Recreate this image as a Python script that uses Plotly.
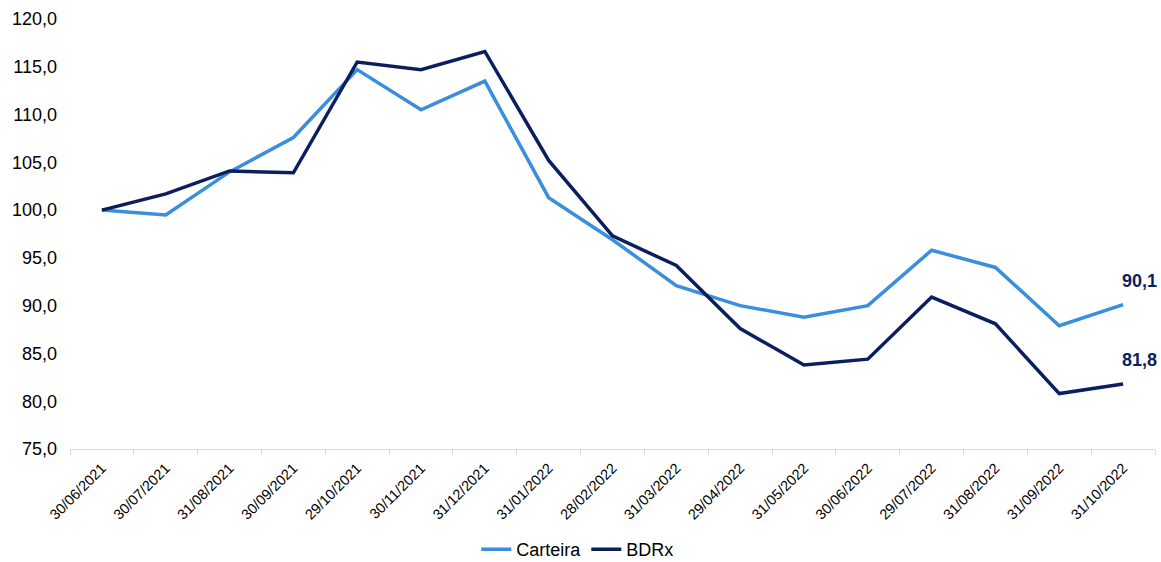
import plotly.graph_objects as go

dates = ["30/06/2021", "30/07/2021", "31/08/2021", "30/09/2021", "29/10/2021", "30/11/2021",
         "31/12/2021", "31/01/2022", "28/02/2022", "31/03/2022", "29/04/2022", "31/05/2022",
         "30/06/2022", "29/07/2022", "31/08/2022", "31/09/2022", "31/10/2022"]
carteira = [100.0, 99.5, 104.0, 107.6, 114.7, 110.5, 113.5, 101.3, 96.9, 92.1, 90.0, 88.8,
            90.0, 95.8, 94.0, 87.9, 90.1]
bdrx = [100.0, 101.7, 104.1, 103.9, 115.5, 114.7, 116.6, 105.2, 97.3, 94.2, 87.6, 83.8,
        84.4, 90.9, 88.1, 80.8, 81.8]

c_cart = "#3A8EDC"
c_bdrx = "#0B1F5E"

fig = go.Figure()
fig.add_trace(go.Scatter(x=dates, y=carteira, name="Carteira", mode="lines",
                         line=dict(color=c_cart, width=3.5)))
fig.add_trace(go.Scatter(x=dates, y=bdrx, name="BDRx", mode="lines",
                         line=dict(color=c_bdrx, width=3.5)))

for series in (carteira, bdrx):
    fig.add_annotation(x=dates[-1], y=series[-1], text="<b>%s</b>" % f"{series[-1]:.1f}".replace(".", ","),
                       showarrow=False, xanchor="left", yanchor="middle", xshift=-3, yshift=24,
                       font=dict(family="Liberation Sans, Arial", size=18, color=c_bdrx))

fig.update_layout(
    width=1161, height=562,
    margin=dict(l=70, r=6, t=19, b=113, autoexpand=False),
    paper_bgcolor="white", plot_bgcolor="white",
    separators=",.",
    font=dict(family="Liberation Sans, Arial", size=13, color="#000000"),
    showlegend=True,
    legend=dict(orientation="h", x=0.468, xanchor="center", yref="container", y=0.022, yanchor="middle",
                font=dict(size=18, color="#000000"), itemwidth=30, traceorder="normal"),
)
fig.update_xaxes(type="category", tickangle=-45, showgrid=False, automargin=False,
                 showline=True, linecolor="#D9D9D9", linewidth=1,
                 ticks="outside", tickson="boundaries", ticklen=5, tickcolor="#D9D9D9",
                 ticklabelstandoff=4,
                 tickfont=dict(size=14.5), range=[-0.5, 16.5])
fig.update_yaxes(range=[75, 120], dtick=5, tickformat=".1f", showgrid=False, automargin=False,
                 zeroline=False, showline=False, tickfont=dict(size=18), ticks="",
                 ticklabelstandoff=12)

fig.write_html("out.html")
